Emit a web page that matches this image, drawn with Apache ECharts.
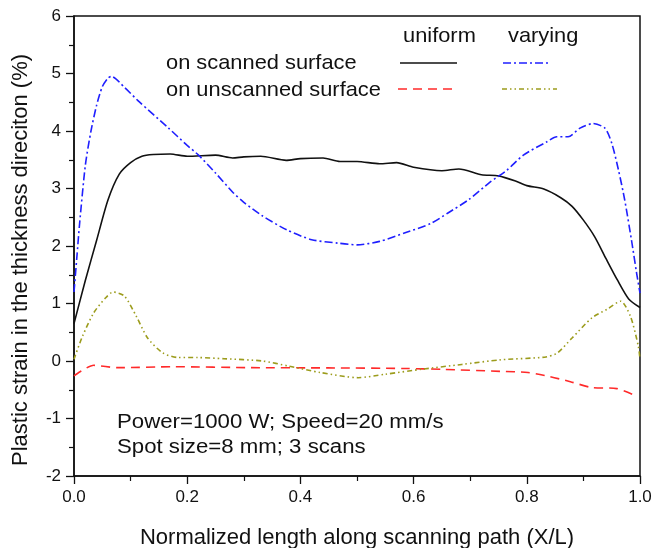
<!DOCTYPE html>
<html>
<head>
<meta charset="utf-8">
<script src="https://cdn.jsdelivr.net/npm/echarts@6/dist/echarts.min.js"></script>
<style>html,body{margin:0;padding:0;background:#fff;}#c{width:663px;height:548px;}</style>
</head>
<body>
<div id="c"></div>
<script>
// ---- data ----
var xTicks = [0, 0.2, 0.4, 0.6, 0.8, 1.0];
var yTicks = [-2, -1, 0, 1, 2, 3, 4, 5, 6];

var uniformScannedX = [0, 0.02, 0.04, 0.06, 0.08, 0.10, 0.12, 0.14, 0.17, 0.20, 0.25, 0.28, 0.30, 0.33, 0.375, 0.40, 0.44, 0.47, 0.50, 0.54, 0.57, 0.60, 0.65, 0.68, 0.72, 0.75, 0.78, 0.80, 0.83, 0.86, 0.88, 0.90, 0.92, 0.94, 0.96, 0.98, 1.0];
var uniformScannedY = [0.65, 1.4, 2.1, 2.8, 3.25, 3.45, 3.56, 3.59, 3.6, 3.56, 3.58, 3.53, 3.55, 3.56, 3.49, 3.52, 3.53, 3.47, 3.47, 3.43, 3.45, 3.37, 3.31, 3.34, 3.24, 3.22, 3.13, 3.05, 2.99, 2.84, 2.69, 2.45, 2.16, 1.78, 1.41, 1.08, 0.93];

var varyingScannedX = [0, 0.005, 0.01, 0.02, 0.03, 0.04, 0.05, 0.06, 0.066, 0.09, 0.115, 0.167, 0.20, 0.22, 0.25, 0.28, 0.30, 0.332, 0.376, 0.42, 0.466, 0.5, 0.54, 0.585, 0.63, 0.66, 0.698, 0.735, 0.765, 0.794, 0.835, 0.853, 0.873, 0.894, 0.917, 0.938, 0.95, 0.962, 0.973, 0.985, 0.994, 1.0];
var varyingScannedY = [1.2, 1.8, 2.4, 3.4, 4.0, 4.45, 4.77, 4.92, 4.95, 4.75, 4.51, 4.05, 3.75, 3.58, 3.27, 2.94, 2.76, 2.53, 2.28, 2.11, 2.05, 2.02, 2.08, 2.23, 2.39, 2.57, 2.81, 3.11, 3.32, 3.58, 3.81, 3.9, 3.9, 4.05, 4.13, 4.05, 3.79, 3.32, 2.8, 2.1, 1.53, 1.18];

var uniformUnscannedX = [0, 0.01, 0.035, 0.076, 0.177, 0.313, 0.448, 0.584, 0.651, 0.753, 0.802, 0.84, 0.877, 0.914, 0.959, 0.989];
var uniformUnscannedY = [-0.26, -0.19, -0.075, -0.116, -0.10, -0.116, -0.12, -0.13, -0.145, -0.18, -0.2, -0.27, -0.36, -0.46, -0.48, -0.59];

var varyingUnscannedX = [0, 0.015, 0.035, 0.056, 0.069, 0.089, 0.11, 0.13, 0.157, 0.184, 0.218, 0.265, 0.333, 0.38, 0.435, 0.502, 0.55, 0.617, 0.685, 0.753, 0.834, 0.854, 0.88, 0.915, 0.942, 0.966, 0.983, 0.997, 1.0];
var varyingUnscannedY = [0.03, 0.43, 0.84, 1.1, 1.2, 1.13, 0.78, 0.40, 0.14, 0.06, 0.06, 0.04, 0.0, -0.09, -0.2, -0.29, -0.23, -0.14, -0.06, 0.02, 0.07, 0.14, 0.40, 0.75, 0.9, 1.04, 0.78, 0.26, 0.03];

var columnHeaders = ['uniform', 'varying'];
var rowLabels = ['on scanned surface', 'on unscanned surface'];
var noteLines = ['Power=1000 W; Speed=20 mm/s', 'Spot size=8 mm; 3 scans'];
var xTitle = 'Normalized length along scanning path (X/L)';
var yTitle = 'Plastic strain in the thickness direciton (%)';

function pairs(xs, ys) { return xs.map(function (x, i) { return [x, ys[i]]; }); }

var FONT = '"Liberation Sans", Arial, sans-serif';
var C_BLACK = '#111111', C_BLUE = '#1f1fff', C_RED = '#ff2a2a', C_OLIVE = '#9c9c1c';
var S_BLUE = [8, 3, 2, 3], S_RED = [9, 6], S_OLIVE = [5, 3, 1.5, 3, 1.5, 3];

var chart = echarts.init(document.getElementById('c'), null, { renderer: 'canvas' });

function legendLine(x1, x2, y, color, dash) {
  return { type: 'line', shape: { x1: x1, y1: y, x2: x2, y2: y },
    style: { stroke: color, lineWidth: 1.6, lineDash: dash || null } };
}
function txt(x, y, text, size, sx) {
  return { type: 'text', x: x, y: y, scaleX: sx || 1,
    style: { text: text, fill: '#111', font: size + 'px ' + FONT, textVerticalAlign: 'middle', verticalAlign: 'middle' } };
}

var option = {
  backgroundColor: '#fff',
  animation: false,
  grid: { left: 74, right: 23, top: 16, bottom: 72, outerBoundsMode: 'none', containLabel: false,
    show: true, borderColor: '#111', borderWidth: 1.5, backgroundColor: 'transparent' },
  xAxis: {
    type: 'value', min: 0, max: 1, interval: 0.2,
    name: xTitle, nameLocation: 'middle', nameGap: 51,
    nameTextStyle: { fontFamily: FONT, fontSize: 22, color: '#111' },
    axisLine: { show: true, onZero: false, lineStyle: { color: '#111', width: 1.5 } },
    axisTick: { show: true, inside: false, length: 8, lineStyle: { color: '#111', width: 1.3 } },
    minorTick: { show: true, splitNumber: 2, length: 5, lineStyle: { color: '#111', width: 1.2 } },
    splitLine: { show: false },
    axisLabel: { fontFamily: FONT, fontSize: 17, color: '#111', margin: 13,
      formatter: function (v) { return v.toFixed(1); } }
  },
  yAxis: {
    type: 'value', min: -2, max: 6, interval: 1,
    name: yTitle, nameLocation: 'middle', nameGap: 42,
    nameTextStyle: { fontFamily: FONT, fontSize: 22, color: '#111', padding: [0, 28, 0, 0] },
    axisLine: { show: true, onZero: false, lineStyle: { color: '#111', width: 1.5 } },
    axisTick: { show: true, inside: false, length: 8, lineStyle: { color: '#111', width: 1.3 } },
    minorTick: { show: true, splitNumber: 2, length: 5, lineStyle: { color: '#111', width: 1.2 } },
    splitLine: { show: false },
    axisLabel: { fontFamily: FONT, fontSize: 17, color: '#111', margin: 13 }
  },
  series: [
    { type: 'line', data: pairs(uniformScannedX, uniformScannedY), smooth: 0.25, showSymbol: false,
      lineStyle: { color: C_BLACK, width: 1.6 } },
    { type: 'line', data: pairs(varyingScannedX, varyingScannedY), smooth: 0.25, showSymbol: false,
      lineStyle: { color: C_BLUE, width: 1.6, type: S_BLUE } },
    { type: 'line', data: pairs(uniformUnscannedX, uniformUnscannedY), smooth: 0.25, showSymbol: false,
      lineStyle: { color: C_RED, width: 1.6, type: S_RED } },
    { type: 'line', data: pairs(varyingUnscannedX, varyingUnscannedY), smooth: 0.25, showSymbol: false,
      lineStyle: { color: C_OLIVE, width: 1.6, type: S_OLIVE } }
  ],
  graphic: [
    txt(403, 36, columnHeaders[0], 21, 1.04),
    txt(508, 36, columnHeaders[1], 21, 1.04),
    txt(166, 63, rowLabels[0], 21, 1.04),
    txt(166, 90, rowLabels[1], 21, 1.04),
    legendLine(400, 457, 63, C_BLACK),
    legendLine(503, 550, 63, C_BLUE, S_BLUE),
    legendLine(398, 453, 89, C_RED, S_RED),
    legendLine(502, 557, 89, C_OLIVE, S_OLIVE),
    txt(117, 422, noteLines[0], 20, 1.11),
    txt(117, 447, noteLines[1], 20, 1.11)
  ]
};
chart.setOption(option);
</script>
</body>
</html>
